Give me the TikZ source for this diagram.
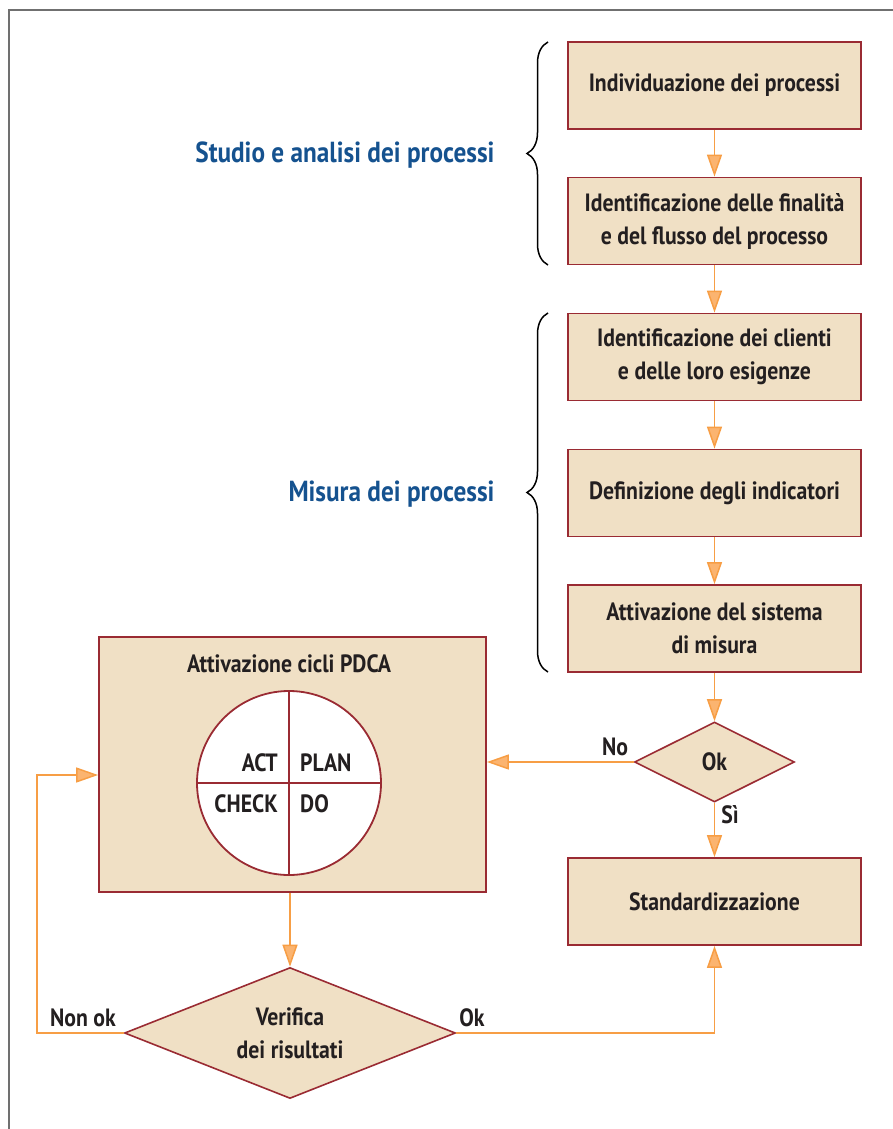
\documentclass[tikz,border=0pt]{standalone}
\usepackage{fontspec}
\setmainfont[FakeStretch=0.87]{PT Sans}
\usetikzlibrary{arrows.meta,decorations.pathreplacing,shapes.geometric,calc}
\definecolor{boxfill}{HTML}{F0E0C5}
\definecolor{boxline}{HTML}{9A2B33}
\definecolor{flow}{HTML}{F79E45}
\definecolor{flowtip}{HTML}{FBB470}
\definecolor{heading}{HTML}{15528F}
\definecolor{framecol}{HTML}{707070}
\definecolor{ink}{HTML}{231F20}
\begin{document}
\begin{tikzpicture}[x=1pt,y=-1pt,
  txt/.style={font=\fontsize{25}{33}\selectfont\bfseries, text=ink},
  stepbox/.style={txt, draw=boxline, fill=boxfill, line width=1.8pt,
    minimum width=293pt, minimum height=87pt, align=center, inner sep=0pt},
  choice/.style={draw=boxline, fill=boxfill, line width=1.6pt,
    shape=diamond, inner sep=0pt},
  inside/.style={label={[txt, align=center]center:#1}},
  flowline/.style={draw=flow, line width=1.5pt,
    -{Triangle[width=15pt,length=22pt,fill=flowtip]}},
  grouplabel/.style={font=\fontsize{29}{33}\selectfont\bfseries, text=heading, anchor=east},
  groupbrace/.style={draw=black, line width=1.5pt,
    decorate, decoration={brace, amplitude=21pt}},
  quadrant/.style={txt, inner sep=0pt}
]
\useasboundingbox (0,0) rectangle (893,1129);
% outer frame (top and left edges)
\draw[framecol, line width=1.3pt] (9,1129) -- (9,10) -- (893,10);

% right column of steps
\node[stepbox] (s1) at (714.5,85.5) {Individuazione dei processi};
\node[stepbox] (s2) at (714.5,221) {Identificazione delle finalità\\e del flusso del processo};
\node[stepbox] (s3) at (714.5,357) {Identificazione dei clienti\\e delle loro esigenze};
\node[stepbox] (s4) at (714.5,493) {Definizione degli indicatori};
\node[stepbox] (s5) at (714.5,628.5) {Attivazione del sistema\\di misura};
\node[choice, minimum width=160pt, minimum height=80pt, inside={Ok}] (ok) at (714.5,762) {};
\node[stepbox] (std) at (714.5,901.5) {Standardizzazione};

% group labels with braces
\coordinate (b1t) at (548,42);
\coordinate (b1b) at (548,265);
\coordinate (b2t) at (548,313);
\coordinate (b2b) at (548,672);
\draw[groupbrace] (b1b) -- (b1t);
\draw[groupbrace] (b2b) -- (b2t);
\node[grouplabel] (g1) at (498,155) {Studio e analisi dei processi};
\node[grouplabel] (g2) at (498,494) {Misura dei processi};

% PDCA block
\node[draw=boxline, fill=boxfill, line width=1.8pt, minimum width=387pt,
  minimum height=255pt, inner sep=0pt] (pdca) at (292.5,764.5) {};
\node[txt] (pdcatitle) at (289,664) {Attivazione cicli PDCA};
\node[draw=boxline, fill=white, line width=1.8pt, circle, minimum size=184pt,
  inner sep=0pt] (wheel) at (289,783) {};
\draw[boxline, line width=1.6pt] (wheel.north) -- (wheel.south);
\draw[boxline, line width=1.6pt] (wheel.west) -- (wheel.east);
\node[quadrant, anchor=east] (act) at (278,763) {ACT};
\node[quadrant, anchor=west] (plan) at (300,763) {PLAN};
\node[quadrant, anchor=east] (check) at (278,804) {CHECK};
\node[quadrant, anchor=west] (do) at (300,804) {DO};

% verification
\node[choice, minimum width=331pt, minimum height=131pt,
  inside={Verifica\\dei risultati}] (vd) at (290,1033) {};

% connectors
\draw[flowline] (s1) -- (s2);
\draw[flowline] (s2) -- (s3);
\draw[flowline] (s3) -- (s4);
\draw[flowline] (s4) -- (s5);
\draw[flowline] (s5.south) -- (ok.north);
\draw[flowline] (ok.south) -- (std.north);
\draw[flowline] (ok.west) -- (ok.west -| pdca.east);
\draw[flowline] (vd.north |- pdca.south) -- (vd.north);
\coordinate (loopcorner) at (37,775);
\draw[flowline] (vd.west) -| (loopcorner) -- (loopcorner -| pdca.west);
\draw[flowline] (vd.east) -| (std.south);

% connector labels
\node[txt] (lno) at (615,747) {No};
\node[txt] (lsi) at (730,815) {Sì};
\node[txt] (lnonok) at (83,1018) {Non ok};
\node[txt] (lok) at (472,1018) {Ok};
\end{tikzpicture}
\end{document}
